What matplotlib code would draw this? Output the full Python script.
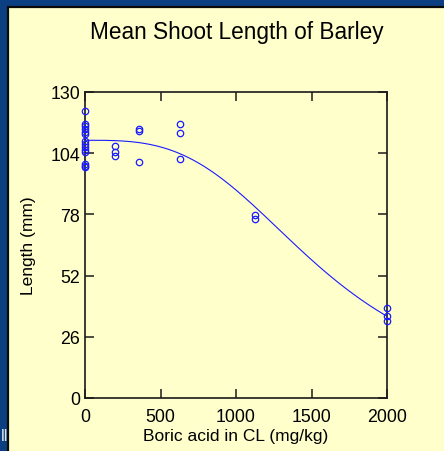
import numpy as np
import matplotlib
matplotlib.use("Agg")
import matplotlib.pyplot as plt
from matplotlib.patches import Rectangle

plt.rcParams["font.family"] = ["Liberation Sans", "DejaVu Sans"]

# observed shoot lengths (mm) at each boric acid dose (mg/kg)
dose_0 = [121.8, 116.4, 115.7, 114.3, 112.9, 112.2, 109.3, 107.9,
          106.5, 105.5, 104.4, 99.4, 98.7, 98.0]
dose_200 = [107.2, 104.4, 102.9]
dose_360 = [114.3, 113.3, 100.1]
dose_630 = [116.3, 112.5, 101.5]
dose_1125 = [77.9, 76.0]
dose_2000 = [38.1, 34.7, 32.8]
doses = [0, 200, 360, 630, 1125, 2000]
lengths = [dose_0, dose_200, dose_360, dose_630, dose_1125, dose_2000]

# fitted log-logistic curve parameters (upper limit, slope, ED50)
fit_upper = 109.5
fit_slope = 3.17
fit_ed50 = 1570.0

x_ticks = [0, 500, 1000, 1500, 2000]
y_ticks = [0, 26, 52, 78, 104, 130]

BLUE_BG = "#0b3f82"
PANEL = "#ffffcc"
MARK = "#1a1aff"
INK = "#1a1a1a"

W, H = 444, 452
fig = plt.figure(figsize=(W / 100, H / 100), dpi=100)
fig.patch.set_facecolor(BLUE_BG)

# slide panel with dark border
fig.patches.append(Rectangle((8 / W, -0.01), 1.0, 1 - 8 / H + 0.01,
                             transform=fig.transFigure, facecolor=PANEL,
                             edgecolor="#0a0a0a", linewidth=1.6, zorder=-10))
fig.text(1 / W, 1 - 437 / H, "ll", color="#dde6f0", fontsize=12,
         va="center", ha="left")

ax = fig.add_axes([85 / W, 1 - 399 / H, (387 - 85) / W, (399 - 93) / H])
ax.set_facecolor(PANEL)

xs = np.linspace(0, 2000, 400)
ys = fit_upper / (1 + (xs / fit_ed50) ** fit_slope)
ax.plot(xs, ys, color=MARK, linewidth=0.8, zorder=3)

for d, vals in zip(doses, lengths):
    ax.plot([d] * len(vals), vals, linestyle="none", marker="o",
            markersize=4.6, markerfacecolor="none", markeredgecolor=MARK,
            markeredgewidth=0.9, clip_on=False, zorder=4)

ax.set_xlim(0, 2000)
ax.set_ylim(0, 130)
ax.set_xticks(x_ticks)
ax.set_yticks(y_ticks)
ax.tick_params(direction="in", length=6.5, width=1.1, color=INK,
               top=True, right=True, labelsize=12.8, labelcolor="black")
ax.tick_params(axis="x", pad=7.5)
ax.tick_params(axis="y", pad=3.5)
for s in ax.spines.values():
    s.set_linewidth(1.2)
    s.set_color(INK)

ax.set_xlabel("Boric acid in CL (mg/kg)", fontsize=12.5, labelpad=2)
ax.set_ylabel("Length (mm)", fontsize=12.5, labelpad=10)

fig.text(237 / W, 1 - 33 / H, "Mean Shoot Length of Barley",
         fontsize=16.3, ha="center", va="center")

fig.savefig("out.png", dpi=100, facecolor=fig.get_facecolor())
